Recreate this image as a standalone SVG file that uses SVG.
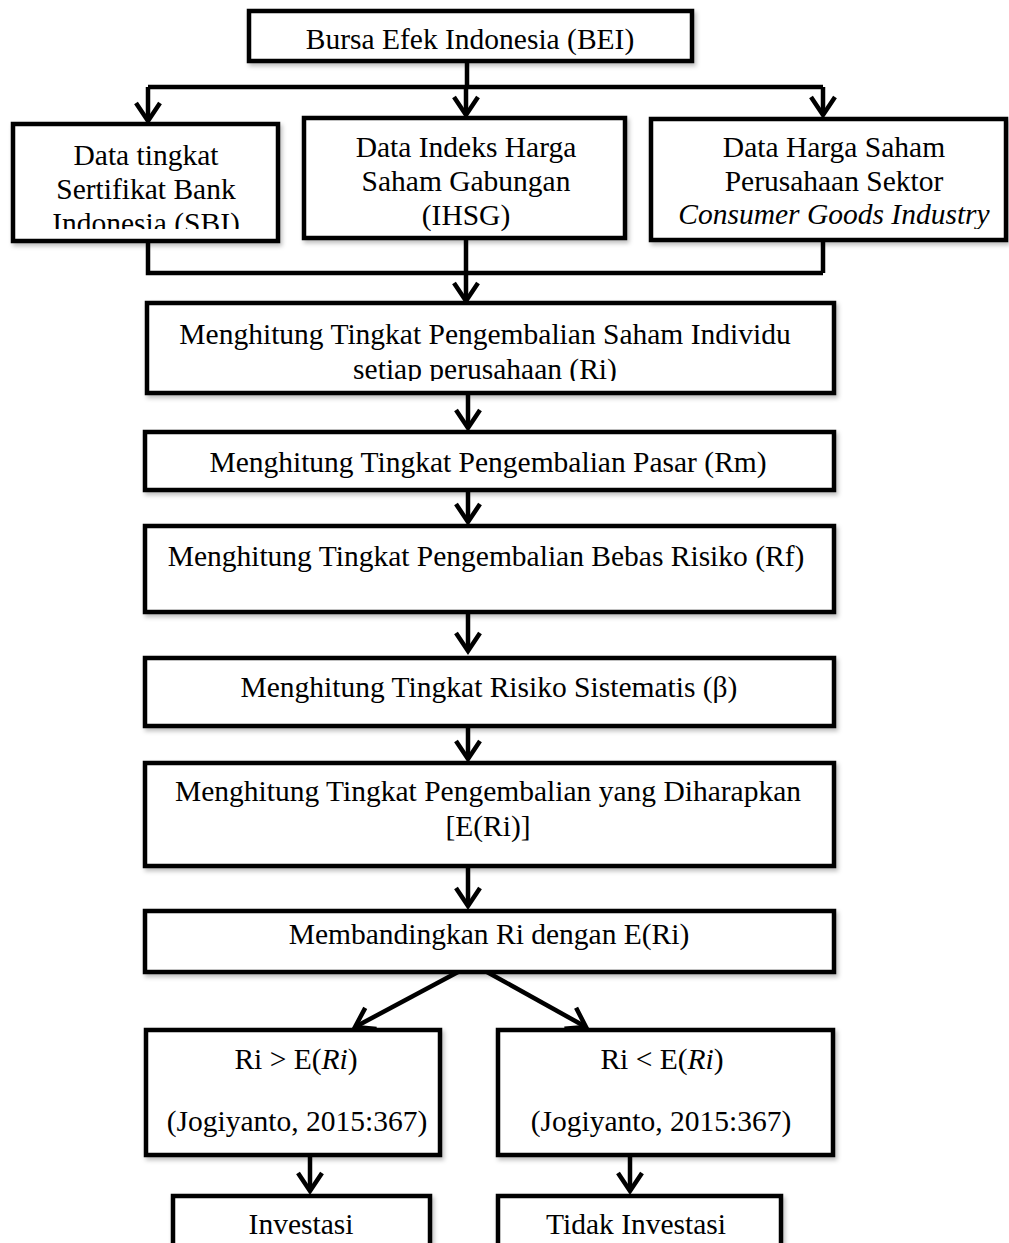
<svg xmlns="http://www.w3.org/2000/svg" width="1009" height="1243" viewBox="0 0 1009 1243">
<style>
.box{fill:#fff;stroke:#000;stroke-width:4.5}
.t{font-family:"Liberation Serif","Times New Roman",serif;font-size:29.5px;fill:#000;text-anchor:middle}
.it{font-style:italic}
.c{fill:none;stroke:#000;stroke-width:4.5}
</style>
<defs>
<marker id="ah" markerUnits="userSpaceOnUse" markerWidth="30" markerHeight="30" refX="19" refY="12" orient="auto" overflow="visible">
<path d="M1,0 L19,12 L1,24" fill="none" stroke="#000" stroke-width="4.5"/>
</marker>
<filter id="sh" x="-5%" y="-5%" width="115%" height="130%">
<feDropShadow dx="2" dy="3" stdDeviation="2" flood-color="#000" flood-opacity="0.25"/>
</filter>
<clipPath id="cl1"><rect x="12" y="123" width="267" height="106"/></clipPath>
<clipPath id="cl3"><rect x="651" y="117" width="356" height="112"/></clipPath>
<clipPath id="cl4"><rect x="147" y="303" width="687" height="78"/></clipPath>
</defs>

<g id="connectors">
<path class="c" d="M467,61 V87 M148,87 H823"/>
<path class="c" d="M148,87 V121" marker-end="url(#ah)"/>
<path class="c" d="M466,87 V115" marker-end="url(#ah)"/>
<path class="c" d="M823,87 V115" marker-end="url(#ah)"/>
<path class="c" d="M148,241 V273 H823 M823,240 V273"/>
<path class="c" d="M466,238 V301" marker-end="url(#ah)"/>
<path class="c" d="M468,393 V428" marker-end="url(#ah)"/>
<path class="c" d="M468,490 V522" marker-end="url(#ah)"/>
<path class="c" d="M468,612 V651" marker-end="url(#ah)"/>
<path class="c" d="M468,726 V759" marker-end="url(#ah)"/>
<path class="c" d="M468,866 V906" marker-end="url(#ah)"/>
<path class="c" d="M458,972 L355,1027" marker-end="url(#ah)"/>
<path class="c" d="M487,972 L586,1027" marker-end="url(#ah)"/>
<path class="c" d="M310,1155 V1191" marker-end="url(#ah)"/>
<path class="c" d="M630,1155 V1191" marker-end="url(#ah)"/>
</g>

<g id="bei">
<rect class="box" filter="url(#sh)" x="249" y="11" width="443" height="50"/>
<text class="t" x="470" y="49">Bursa Efek Indonesia (BEI)</text>
</g>

<g id="sbi">
<rect class="box" filter="url(#sh)" x="13" y="124" width="265" height="117"/>
<g clip-path="url(#cl1)">
<text class="t" x="146" y="165">Data tingkat</text>
<text class="t" x="146" y="199">Sertifikat Bank</text>
<text class="t" x="146" y="233">Indonesia (SBI)</text>
</g>
</g>

<g id="ihsg">
<rect class="box" filter="url(#sh)" x="304" y="118" width="321" height="120"/>
<text class="t" x="466" y="157">Data Indeks Harga</text>
<text class="t" x="466" y="191">Saham Gabungan</text>
<text class="t" x="466" y="225">(IHSG)</text>
</g>

<g id="harga">
<rect class="box" filter="url(#sh)" x="651" y="119" width="355" height="121"/>
<g clip-path="url(#cl3)">
<text class="t" x="834" y="157">Data Harga Saham</text>
<text class="t" x="834" y="191">Perusahaan Sektor</text>
<text class="t it" x="834" y="224">Consumer Goods Industry</text>
</g>
</g>

<g id="ri">
<rect class="box" filter="url(#sh)" x="147" y="303" width="687" height="90"/>
<g clip-path="url(#cl4)">
<text class="t" x="485" y="344">Menghitung Tingkat Pengembalian Saham Individu</text>
<text class="t" x="485" y="379">setiap perusahaan (Ri)</text>
</g>
</g>

<g id="rm">
<rect class="box" filter="url(#sh)" x="145" y="432" width="689" height="58"/>
<text class="t" x="488" y="472">Menghitung Tingkat Pengembalian Pasar (Rm)</text>
</g>

<g id="rf">
<rect class="box" filter="url(#sh)" x="145" y="526" width="689" height="86"/>
<text class="t" x="486" y="566">Menghitung Tingkat Pengembalian Bebas Risiko (Rf)</text>
</g>

<g id="beta">
<rect class="box" filter="url(#sh)" x="145" y="658" width="689" height="68"/>
<text class="t" x="489" y="697">Menghitung Tingkat Risiko Sistematis (β)</text>
</g>

<g id="eri">
<rect class="box" filter="url(#sh)" x="145" y="763" width="689" height="103"/>
<text class="t" x="488" y="801">Menghitung Tingkat Pengembalian yang Diharapkan</text>
<text class="t" x="488" y="836">[E(Ri)]</text>
</g>

<g id="banding">
<rect class="box" filter="url(#sh)" x="145" y="911" width="689" height="61"/>
<text class="t" x="489" y="944">Membandingkan Ri dengan E(Ri)</text>
</g>

<g id="lebih">
<rect class="box" filter="url(#sh)" x="146" y="1030" width="294" height="125"/>
<text class="t" x="296" y="1069">Ri &gt; E(<tspan class="it">Ri</tspan>)</text>
<text class="t" x="297" y="1131">(Jogiyanto, 2015:367)</text>
</g>

<g id="kurang">
<rect class="box" filter="url(#sh)" x="498" y="1030" width="335" height="125"/>
<text class="t" x="662" y="1069">Ri &lt; E(<tspan class="it">Ri</tspan>)</text>
<text class="t" x="661" y="1131">(Jogiyanto, 2015:367)</text>
</g>

<g id="investasi">
<rect class="box" filter="url(#sh)" x="173" y="1196" width="257" height="70"/>
<text class="t" x="301" y="1234">Investasi</text>
</g>

<g id="tidak">
<rect class="box" filter="url(#sh)" x="498" y="1196" width="283" height="70"/>
<text class="t" x="636" y="1234">Tidak Investasi</text>
</g>
</svg>
